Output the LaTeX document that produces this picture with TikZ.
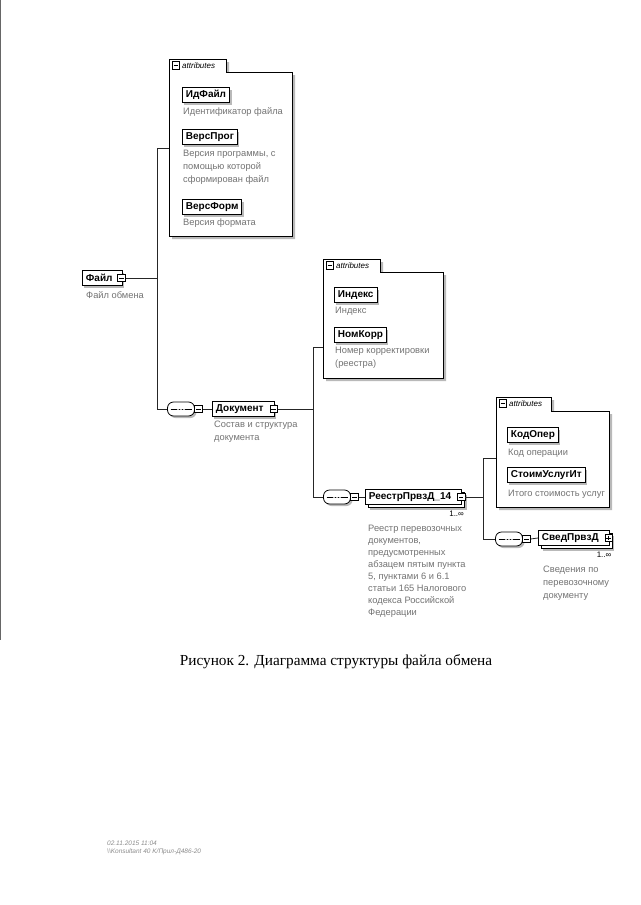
\documentclass[tikz,border=0pt]{standalone}
\usepackage{fontspec}
\setmainfont{Liberation Sans}
\newfontfamily\capfont{Liberation Serif}
\usetikzlibrary{shadows}
\tikzset{
  x=1pt, y=-1pt,
  conn/.style={draw=black!85, line width=0.8pt},
  el/.style={draw=black, line width=0.9pt, fill=white, font=\bfseries\fontsize{10}{11}\selectfont,
     inner xsep=3.5pt, inner ysep=0pt, minimum height=15pt, anchor=west},
  single/.style={el, drop shadow={shadow xshift=2pt, shadow yshift=-2pt, fill=gray!55, opacity=1}},
  multi/.style={el, drop shadow={shadow xshift=5pt, shadow yshift=-5pt, fill=gray!55, opacity=1},
     copy shadow={shadow xshift=3pt, shadow yshift=-3pt, draw=black, fill=white, line width=0.7pt}},
  desc/.style={font=\fontsize{9.3}{12.7}\selectfont, text=black!55, align=left, anchor=north west, inner sep=0pt},
  exp/.style={draw=black, fill=white, line width=0.6pt, minimum size=7.5pt, inner sep=0pt,
     path picture={\draw[line width=0.6pt] ([xshift=1.4pt]path picture bounding box.west) -- ([xshift=-1.4pt]path picture bounding box.east);}},
  expplus/.style={draw=black, fill=white, line width=0.6pt, minimum size=7.5pt, inner sep=0pt,
     path picture={\draw[line width=0.6pt] ([xshift=1.4pt]path picture bounding box.west) -- ([xshift=-1.4pt]path picture bounding box.east);
       \draw[line width=0.6pt] ([yshift=-1.4pt]path picture bounding box.north) -- ([yshift=1.4pt]path picture bounding box.south);}},
  seq/.style={draw=black, fill=white, line width=0.8pt, rounded corners=6pt, minimum width=27pt, minimum height=14pt, inner sep=0pt,
     drop shadow={shadow xshift=2pt, shadow yshift=-2pt, fill=gray!55, opacity=1},
     path picture={\draw[line width=0.7pt] ([xshift=3pt]path picture bounding box.west) -- ([xshift=-3pt]path picture bounding box.east);
       \foreach \d in {-3,0,3} \fill ([xshift=\d pt]path picture bounding box.center) circle (1.2pt);}},
  tabtxt/.style={font=\itshape\fontsize{8}{9}\selectfont, anchor=west, inner sep=0pt},
  mult/.style={font=\fontsize{8}{9}\selectfont, anchor=north east, inner sep=0pt},
}
% #1 name, #2 x1, #3 ytab, #4 xtab, #5 ytop, #6 x2, #7 y2
\newcommand\attrbox[7]{%
  \fill[gray!55] (#2+3,#3+3) -- (#4+3,#3+3) -- (#4+3,#5+3) -- (#6+3,#5+3) -- (#6+3,#7+3) -- (#2+3,#7+3) -- cycle;
  \filldraw[fill=white, draw=black, line width=0.8pt] (#2,#3) -- (#4,#3) -- (#4,#5) -- (#6,#5) -- (#6,#7) -- (#2,#7) -- cycle;
  \node[exp] (#1x) at (#2+7,#3+6.5) {};
  \node[tabtxt] (#1t) at (#2+13,#3+6.5) {attributes};
}
\begin{document}
\begin{tikzpicture}
\useasboundingbox (0,0) rectangle (640,905);
\fill[white] (0,0) rectangle (640,905);
\draw[black!60, line width=0.8pt] (0.5,0) -- (0.5,640);

% ---------- attributes of Файл
\attrbox{ab1}{169}{59}{226}{72}{292}{236}
\coordinate (A1) at (169,148);
\node[single] (idf) at (182,95) {ИдФайл};
\node[desc] (idfd) at (183,107) {Идентификатор файла};
\node[single] (vp) at (182,137) {ВерсПрог};
\node[desc] (vpd) at (183,150) {Версия программы, с\\помощью которой\\сформирован файл};
\node[single] (vf) at (182,207) {ВерсФорм};
\node[desc] (vfd) at (183,219) {Версия формата};

% ---------- Файл
\node[single] (fl) at (82,278) {Файл\kern6pt\null};
\node[exp] (flx) at ([xshift=-1pt]fl.east) {};
\node[desc] (fld) at (86,291) {Файл обмена};
\coordinate (J1t) at (157,148);
\coordinate (J1m) at (157,278);
\coordinate (J1b) at (157,409);
\draw[conn] (flx.east) -- (J1m);
\draw[conn] (A1) -- (J1t) -- (J1b);

% ---------- Документ
\node[seq] (s1) at (181,409) {};
\node[exp] (s1x) at (198.5,409) {};
\draw[conn] (J1b) -- (s1.west);
\node[single] (doc) at (212,409) {Документ\kern7pt\null};
\node[exp] (docx) at ([xshift=-1pt]doc.east) {};
\draw[conn] (s1x.east) -- (doc.west);
\node[desc] (docd) at (214,421) {Состав и структура\\документа};
\coordinate (J2t) at (313,347);
\coordinate (J2m) at (313,409);
\coordinate (J2b) at (313,497);
\draw[conn] (docx.east) -- (J2m);

% ---------- attributes of Документ
\attrbox{ab2}{323}{259}{380}{272}{443}{378}
\coordinate (A2) at (323,347);
\node[single] (ind) at (334,295) {Индекс};
\node[desc] (indd) at (335,307) {Индекс};
\node[single] (nk) at (334,335) {НомКорр};
\node[desc] (nkd) at (335,347) {Номер корректировки\\(реестра)};
\draw[conn] (A2) -- (J2t) -- (J2b);

% ---------- РеестрПрвзД_14
\node[seq] (s2) at (337,497) {};
\node[exp] (s2x) at (354.5,497) {};
\draw[conn] (J2b) -- (s2.west);
\node[multi] (rr) at (365,497) {РеестрПрвзД\_14\kern7pt\null};
\node[exp] (rrx) at ([xshift=-1pt]rr.east) {};
\draw[conn] (s2x.east) -- (rr.west);
\node[mult] (rrm) at ([xshift=2pt,yshift=-6pt]rr.south east) {1..∞};
\node[desc, font=\fontsize{9.3}{12}\selectfont] (rrd) at (368,525) {Реестр перевозочных\\документов,\\предусмотренных\\абзацем пятым пункта\\5, пунктами 6 и 6.1\\статьи 165 Налогового\\кодекса Российской\\Федерации};
\coordinate (J3t) at (483,458);
\coordinate (J3m) at (483,497);
\coordinate (J3b) at (483,539);
\draw[conn] (rrx.east) -- (J3m);

% ---------- attributes of РеестрПрвзД_14
\attrbox{ab3}{496}{397}{551}{411}{609}{507}
\coordinate (A3) at (496,458);
\node[single] (ko) at (507,435) {КодОпер};
\node[desc] (kod) at (508,449) {Код операции};
\node[single] (su) at (507,475) {СтоимУслугИт};
\begin{scope}
\clip (497,412) rectangle (606,506);
\node[desc] (sud) at (508,490) {Итого стоимость услуг};
\end{scope}
\draw[conn] (A3) -- (J3t) -- (J3b);

% ---------- СведПрвзД
\node[seq] (s3) at (509,539) {};
\node[exp] (s3x) at (526.5,539) {};
\draw[conn] (J3b) -- (s3.west);
\node[multi] (sv) at (538,538) {СведПрвзД\kern7pt\null};
\node[expplus] (svx) at ([xshift=-1pt]sv.east) {};
\draw[conn] (s3x.east) -- (sv.west);
\node[mult] (svm) at ([xshift=2pt,yshift=-6pt]sv.south east) {1..∞};
\node[desc] (svd) at (543,566) {Сведения по\\перевозочному\\документу};

% ---------- caption and footer
\node[font=\capfont\fontsize{15.3}{18}\selectfont, inner sep=0pt] (cap) at (336,662) {Рисунок 2. Диаграмма структуры файла обмена};
\node[font=\itshape\fontsize{6.5}{8}\selectfont, text=black!45, align=left, anchor=north west, inner sep=0pt] (foot) at (107,841)
  {02.11.2015 11:04\\\textbackslash\textbackslash Konsultant 40 K/Прил-Д486-20};
\end{tikzpicture}
\end{document}
